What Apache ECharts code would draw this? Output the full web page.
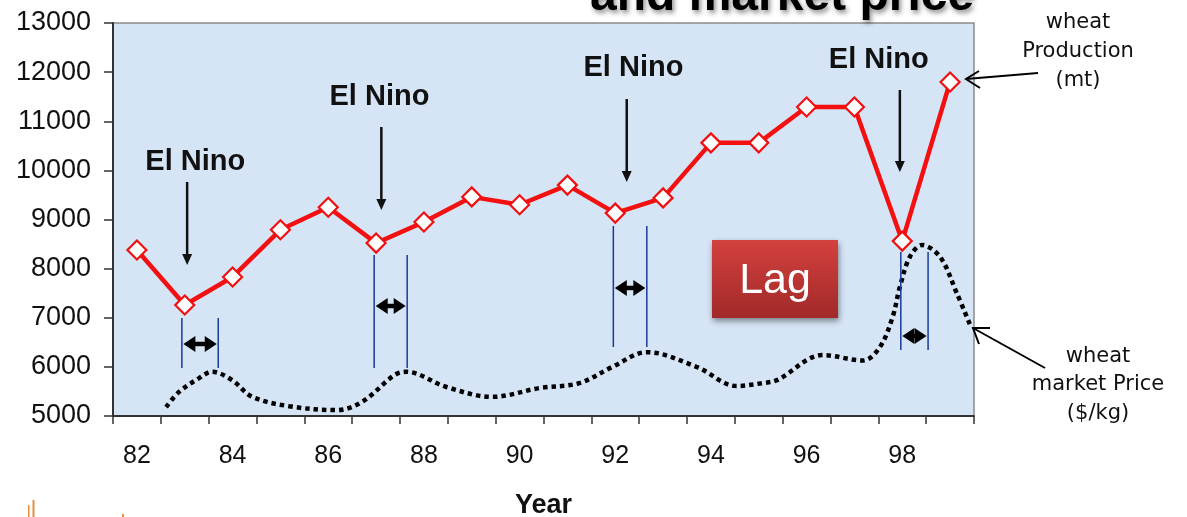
<!DOCTYPE html>
<html>
<head>
<meta charset="utf-8">
<script src="https://cdn.jsdelivr.net/npm/echarts@6/dist/echarts.min.js"></script>
<style>
html,body{margin:0;padding:0;background:#fff;}
#chart{width:1187px;height:517px;}
</style>
</head>
<body>
<div id="chart"></div>
<script>
// ---- data ----
const years = ['82','83','84','85','86','87','88','89','90','91','92','93','94','95','96','97','98','99'];
const production = [8380,7260,7830,8790,9250,8520,8950,9460,9300,9700,9130,9440,10560,10560,11290,11290,8560,11800];
// wheat market price curve (plotted in production units, as in the source picture)
const priceYears  = [82.61,82.88,83.30,83.57,83.99,84.41,85.18,86.17,86.71,87.38,87.63,88.47,89.43,90.42,91.25,91.94,92.66,93.70,94.54,95.08,95.38,96.34,97.18,97.53,97.80,97.95,98.16,98.41,98.79,99.14,99.42];
const priceValues = [5180,5490,5770,5900,5730,5390,5200,5120,5290,5830,5900,5590,5390,5570,5670,6000,6300,6000,5610,5670,5730,6240,6130,6400,7020,7630,8240,8480,8240,7500,6850];
const yTicks = {min:5000, max:13000, step:1000};
// El Nino annotations
const ninoLabelYears  = [83.22, 87.07, 92.38, 97.51];
const ninoLabelValues = [10170, 11494, 12084, 12247];
const ninoArrowYears  = [83.05, 87.11, 92.24, 97.95];
const ninoArrowTop    = [9763, 10883, 11453, 11636];
const ninoArrowBottom = [8074, 9193, 9763, 9967];
// lag brackets
const lagLeftYears  = [82.94, 86.96, 91.96, 97.97];
const lagRightYears = [83.70, 87.65, 92.66, 98.54];
const lagTop        = [6995, 8277, 8868, 8338];
const lagBottom     = [5977, 5977, 6405, 6343];
const lagArrowValue = [6466, 7239, 7606, 6629];

const FONT = '"Liberation Sans", Arial, sans-serif';
const chart = echarts.init(document.getElementById('chart'), null, {renderer:'canvas'});

const option = {
  animation:false,
  backgroundColor:'#ffffff',
  grid:{left:113, top:23, width:861, height:393, containLabel:false, outerBoundsMode:'none',
        show:true, backgroundColor:'#d5e5f6', borderColor:'#8a8a8a', borderWidth:1.5},
  xAxis:[
    {type:'category', data:years, boundaryGap:true, gridIndex:0,
     axisLine:{show:true, lineStyle:{color:'#333', width:2}},
     axisTick:{show:true, interval:0, length:8, lineStyle:{color:'#333', width:1.5}},
     axisLabel:{interval:1, margin:28, fontSize:25, color:'#111', fontFamily:FONT},
     name:'Year', nameLocation:'middle', nameGap:76,
     nameTextStyle:{fontSize:27, fontWeight:'bold', color:'#111', fontFamily:FONT},
     splitLine:{show:false}},
    {type:'value', min:81.5, max:99.5, gridIndex:0, show:false}
  ],
  yAxis:[{type:'value', min:yTicks.min, max:yTicks.max, interval:yTicks.step,
     axisLine:{show:true, lineStyle:{color:'#333', width:2}},
     axisTick:{show:true, length:9, lineStyle:{color:'#333', width:1.5}},
     axisLabel:{fontSize:27, color:'#111', margin:22, fontFamily:FONT, formatter:v=>String(v)},
     splitLine:{show:false}}],
  series:[
    {type:'line', name:'price', xAxisIndex:1, yAxisIndex:0,
     data:priceYears.map((y,i)=>[y, priceValues[i]]),
     smooth:0.35, showSymbol:false, symbol:'none', z:2,
     lineStyle:{color:'#000', width:4.5, type:[4.5,4], cap:'butt'}},
    {type:'line', name:'production', xAxisIndex:0, yAxisIndex:0,
     data:production, z:5,
     symbol:'diamond', symbolSize:[19,19],
     itemStyle:{color:'#ffffff', borderColor:'#f01010', borderWidth:2.2},
     lineStyle:{color:'#f41010', width:4.5}}
  ]
};
chart.setOption(option);

function px(x, y){ return chart.convertToPixel({xAxisIndex:1, yAxisIndex:0}, [x, y]); }

const g = [];
// title fragment
g.push({type:'text', z:1, style:{text:'and market price', x:590, y:-3, font:'bold 48px '+FONT, fill:'#000', align:'left', verticalAlign:'middle', textShadowColor:'rgba(0,0,0,0.45)', textShadowBlur:5, textShadowOffsetX:2, textShadowOffsetY:3}});

// El Nino labels & arrows
ninoLabelYears.forEach((yr,i)=>{
  const p = px(yr, ninoLabelValues[i]);
  g.push({type:'text', z:10, style:{text:'El Nino', x:p[0], y:p[1], font:'bold 29px '+FONT, fill:'#111', align:'center', verticalAlign:'middle'}});
  const a = px(ninoArrowYears[i], ninoArrowTop[i]);
  const b = px(ninoArrowYears[i], ninoArrowBottom[i]);
  g.push({type:'line', z:10, shape:{x1:a[0], y1:a[1], x2:b[0], y2:b[1]-8}, style:{stroke:'#111', lineWidth:2.5}});
  g.push({type:'polygon', z:10, shape:{points:[[b[0]-5,b[1]-11],[b[0]+5,b[1]-11],[b[0],b[1]]]}, style:{fill:'#111'}});
});

// lag brackets
lagLeftYears.forEach((yl,i)=>{
  const l1 = px(yl, lagTop[i]), l2 = px(yl, lagBottom[i]);
  const r1 = px(lagRightYears[i], lagTop[i]), r2 = px(lagRightYears[i], lagBottom[i]);
  g.push({type:'line', z:9, shape:{x1:l1[0], y1:l1[1], x2:l2[0], y2:l2[1]}, style:{stroke:'#1a3a9a', lineWidth:1.5}});
  g.push({type:'line', z:9, shape:{x1:r1[0], y1:r1[1], x2:r2[0], y2:r2[1]}, style:{stroke:'#1a3a9a', lineWidth:1.5}});
  const m = px(yl, lagArrowValue[i])[1];
  const xa = l1[0]+1.5, xb = r1[0]-1.5;
  g.push({type:'line', z:10, shape:{x1:xa+8, y1:m, x2:xb-8, y2:m}, style:{stroke:'#000', lineWidth:4.5}});
  g.push({type:'polygon', z:10, shape:{points:[[xa,m],[xa+12,m-8],[xa+12,m+8]]}, style:{fill:'#000'}});
  g.push({type:'polygon', z:10, shape:{points:[[xb,m],[xb-12,m-8],[xb-12,m+8]]}, style:{fill:'#000'}});
});

// Lag box
g.push({type:'rect', z:11, shape:{x:712, y:240, width:126, height:78},
  style:{fill:new echarts.graphic.LinearGradient(0,0,0,1,[{offset:0,color:'#d2413d'},{offset:1,color:'#a2292a'}]),
         shadowBlur:6, shadowColor:'rgba(0,0,0,0.45)', shadowOffsetX:1, shadowOffsetY:3}});
g.push({type:'text', z:12, style:{text:'Lag', x:775, y:281, font:'43px '+FONT, fill:'#fff', align:'center', verticalAlign:'middle'}});

// right-hand annotations
const SANS = '"DejaVu Sans", Verdana, sans-serif';
g.push({type:'text', z:10, style:{text:'wheat\nProduction\n(mt)', x:1078, y:52, font:'21px '+SANS, fill:'#111', align:'center', verticalAlign:'middle', lineHeight:29}});
g.push({type:'line', z:10, shape:{x1:1038, y1:73, x2:966, y2:79}, style:{stroke:'#000', lineWidth:2}});
g.push({type:'polyline', z:10, shape:{points:[[979,71],[966,79],[980,88]]}, style:{stroke:'#000', lineWidth:2, fill:null}});
g.push({type:'text', z:10, style:{text:'wheat\nmarket Price\n($/kg)', x:1098, y:385, font:'21px '+SANS, fill:'#111', align:'center', verticalAlign:'middle', lineHeight:28.5}});
g.push({type:'line', z:10, shape:{x1:1045, y1:368, x2:973, y2:328}, style:{stroke:'#000', lineWidth:2}});
g.push({type:'polyline', z:10, shape:{points:[[990,328],[973,328],[979,344]]}, style:{stroke:'#000', lineWidth:2, fill:null}});

// small logo fragment at bottom-left
g.push({type:'rect', shape:{x:28, y:505, width:1.5, height:12}, style:{fill:'#e39040'}});
g.push({type:'rect', shape:{x:32.5, y:500, width:2, height:17}, style:{fill:'#e39040'}});
g.push({type:'rect', shape:{x:122, y:514, width:2, height:3}, style:{fill:'#e39040'}});

chart.setOption({graphic:{elements:g}});
</script>
</body>
</html>
